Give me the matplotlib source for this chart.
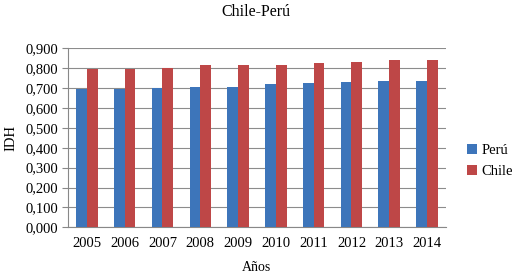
import matplotlib
matplotlib.use("Agg")
import matplotlib.pyplot as plt
import numpy as np

years = ["2005", "2006", "2007", "2008", "2009", "2010", "2011", "2012", "2013", "2014"]
peru = [0.694, 0.696, 0.699, 0.704, 0.707, 0.720, 0.725, 0.729, 0.734, 0.736]
chile = [0.794, 0.796, 0.802, 0.814, 0.814, 0.818, 0.824, 0.829, 0.840, 0.842]
yticks = [0.0, 0.1, 0.2, 0.3, 0.4, 0.5, 0.6, 0.7, 0.8, 0.9]

plt.rcParams['font.family'] = ['Liberation Serif', 'DejaVu Serif']

fig = plt.figure(figsize=(5.12, 2.75), dpi=100)
ax = fig.add_axes([0.1328, 0.1735, 0.7382, 0.6509])

x = np.arange(len(years))
w = 0.285
ax.bar(x - w/2, peru, width=w, color='#3D75BA', label='Perú', zorder=3)
ax.bar(x + w/2, chile, width=w, color='#BE4747', label='Chile', zorder=3)

ax.set_xlim(-0.5, len(years) - 0.5)
ax.set_ylim(0, 0.9)
ax.set_yticks(yticks)
ax.set_yticklabels([f"{v:.3f}".replace('.', ',') for v in yticks], fontsize=10.5)
ax.set_xticks(x)
ax.set_xticklabels(years, fontsize=10.5)
ax.tick_params(axis='x', length=0, pad=7)
ax.tick_params(axis='y', length=4, color='#888888', pad=3)
ax.grid(axis='y', color='#8c8c8c', linewidth=0.8, zorder=0)
for s in ['top', 'right']:
    ax.spines[s].set_visible(False)
ax.spines['left'].set_color('#888888')
ax.spines['bottom'].set_color('#888888')

ax.set_ylabel('IDH', fontsize=10.5, labelpad=6)
ax.set_xlabel('Años', fontsize=10, labelpad=8)
fig.suptitle('Chile-Perú', fontsize=11.5, y=0.985)

ax.legend(loc='center left', bbox_to_anchor=(1.02, 0.37), frameon=False,
          fontsize=10.5, handlelength=0.7, handleheight=0.7, handletextpad=0.3,
          labelspacing=0.55)

fig.savefig('out.png', dpi=100)
